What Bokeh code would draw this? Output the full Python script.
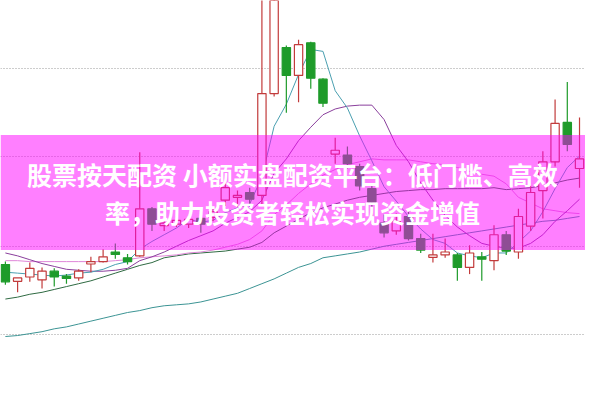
from bokeh.plotting import figure
from bokeh.models import Range1d, BoxAnnotation, FixedTicker, ColumnDataSource
from bokeh.embed import file_html
from bokeh.resources import INLINE
from bokeh.core.properties import value

# ---- data ----
idx = list(range(48))
opens = [9.25, 9.08, 9.12, 9.09, 9.18, 9.12, 9.11, 9.26, 9.28, 9.37,
         9.32, 9.34, 9.83, 9.66, 9.67, 9.67, 9.73, 9.74, 9.92, 9.95,
         10.00, 9.97, 11.03, 11.51, 11.22, 11.56, 11.18, 10.40, 10.39, 10.27,
         10.04, 9.68, 9.60, 9.75, 9.52, 9.33, 9.35, 9.35, 9.22, 9.32,
         9.29, 9.56, 9.38, 9.65, 10.02, 10.32, 10.73, 10.25]
highs = [9.28, 9.11, 9.27, 9.22, 9.21, 9.15, 9.20, 9.33, 9.41, 9.47,
         9.36, 10.42, 9.85, 9.72, 9.75, 9.76, 9.78, 9.85, 10.12, 10.02,
         10.05, 12.10, 12.60, 11.53, 11.59, 11.57, 11.19, 10.57, 10.48, 10.30,
         10.08, 9.77, 9.78, 9.80, 9.57, 9.57, 9.52, 9.37, 9.45, 9.38,
         9.66, 9.60, 9.83, 10.07, 10.43, 10.97, 11.15, 10.78]
lows = [9.04, 8.96, 9.07, 9.00, 9.02, 9.05, 9.08, 9.17, 9.27, 9.31,
        9.25, 9.33, 9.60, 9.60, 9.64, 9.63, 9.58, 9.70, 9.86, 9.85,
        9.85, 9.88, 11.00, 10.83, 10.94, 11.08, 10.89, 10.30, 10.25, 10.02,
        9.75, 9.53, 9.56, 9.50, 9.37, 9.27, 9.32, 9.08, 9.15, 9.08,
        9.19, 9.35, 9.31, 9.60, 9.73, 10.27, 10.43, 10.05]
closes = [9.07, 9.10, 9.21, 9.18, 9.12, 9.11, 9.18, 9.27, 9.33, 9.36,
          9.28, 9.83, 9.67, 9.67, 9.71, 9.72, 9.67, 9.80, 10.05, 9.97,
          9.93, 11.03, 12.45, 11.22, 11.54, 11.19, 10.93, 10.44, 10.30, 10.07,
          9.90, 9.58, 9.70, 9.52, 9.40, 9.34, 9.38, 9.22, 9.37, 9.31,
          9.56, 9.39, 9.75, 10.00, 10.32, 10.72, 10.50, 10.35]

ma5 = [9.17, 9.16, 9.15, 9.14, 9.13, 9.14, 9.16, 9.17, 9.20, 9.25,
       9.28, 9.41, 9.49, 9.56, 9.63, 9.72, 9.69, 9.71, 9.79, 9.84,
       9.88, 10.16, 10.69, 10.92, 11.23, 11.49, 11.47, 11.06, 10.88, 10.59,
       10.33, 10.06, 9.91, 9.75, 9.62, 9.51, 9.47, 9.37, 9.34, 9.32,
       9.37, 9.37, 9.48, 9.60, 9.80, 10.04, 10.26, 10.38]
ma10 = [9.37, 9.34, 9.30, 9.26, 9.23, 9.20, 9.19, 9.18, 9.18, 9.19,
        9.21, 9.29, 9.33, 9.38, 9.44, 9.50, 9.55, 9.60, 9.68, 9.74,
        9.80, 9.92, 10.20, 10.35, 10.54, 10.68, 10.81, 10.87, 10.90, 10.91,
        10.91, 10.76, 10.49, 10.32, 10.10, 9.92, 9.76, 9.64, 9.55, 9.47,
        9.44, 9.42, 9.42, 9.47, 9.56, 9.70, 9.81, 9.93]
ma20 = [9.29, 9.29, 9.28, 9.28, 9.28, 9.28, 9.28, 9.28, 9.28, 9.29,
        9.30, 9.32, 9.33, 9.34, 9.35, 9.37, 9.38, 9.40, 9.43, 9.46,
        9.51, 9.60, 9.77, 9.87, 9.99, 10.09, 10.18, 10.24, 10.29, 10.32,
        10.35, 10.34, 10.34, 10.34, 10.32, 10.30, 10.29, 10.26, 10.22, 10.19,
        10.17, 10.09, 9.95, 9.89, 9.83, 9.81, 9.79, 9.78]
ma30 = [8.89, 8.91, 8.94, 8.96, 8.99, 9.02, 9.05, 9.08, 9.12, 9.16,
        9.20, 9.24, 9.27, 9.32, 9.34, 9.36, 9.37, 9.38, 9.39, 9.41,
        9.43, 9.48, 9.58, 9.65, 9.72, 9.79, 9.84, 9.88, 9.92, 9.95,
        9.97, 9.99, 10.01, 10.02, 10.03, 10.03, 10.04, 10.04, 10.04, 10.04,
        10.05, 10.03, 10.04, 10.05, 10.07, 10.10, 10.13, 10.15]
ma60 = [8.50, 8.51, 8.53, 8.55, 8.58, 8.60, 8.63, 8.66, 8.69, 8.72,
        8.75, 8.77, 8.80, 8.82, 8.83, 8.84, 8.86, 8.89, 8.92, 8.95,
        9.00, 9.05, 9.10, 9.16, 9.22, 9.26, 9.32, 9.34, 9.36, 9.38,
        9.41, 9.44, 9.46, 9.48, 9.50, 9.52, 9.54, 9.56, 9.58, 9.60,
        9.62, 9.64, 9.66, 9.68, 9.70, 9.71, 9.73, 9.75]

grid_levels = [8.52, 9.44, 10.37, 11.29]
banner_bottom, banner_top = 9.40, 10.60
title_lines = ["股票按天配资 小额实盘配资平台：低门槛、高效",
               "率，助力投资者轻松实现资金增值"]
title_y = [10.19, 9.80]

RED = "#c23b3b"
GREEN = "#1e9b2a"

# ---- figure ----
p = figure(width=585, height=384, output_backend="svg", toolbar_location=None,
           x_range=Range1d(-0.4, 47.49), y_range=Range1d(8.0, 12.0),
           min_border=0)
p.xaxis.visible = False
p.yaxis.visible = False
p.outline_line_color = None
p.xgrid.visible = False
p.yaxis.ticker = FixedTicker(ticks=grid_levels)
p.ygrid.ticker = FixedTicker(ticks=grid_levels)
p.ygrid.grid_line_color = "#9a9a9a"
p.ygrid.grid_line_dash = "1 2"
p.ygrid.grid_line_width = 1

# moving averages
p.line(idx, ma60, line_color="#3c9494", line_width=1)
p.line(idx, ma30, line_color="#2f6a42", line_width=1)
p.line(idx, ma20, line_color="#df86d8", line_width=1)
p.line(idx, ma10, line_color="#8a3f9c", line_width=1)
p.line(idx, ma5, line_color="#4a9fb0", line_width=1)

# candles
up = [c >= o for o, c in zip(opens, closes)]
src = ColumnDataSource(dict(
    x=idx, high=highs, low=lows,
    top=[max(o, c) + (0.01 if abs(o - c) < 0.02 else 0) for o, c in zip(opens, closes)],
    bottom=[min(o, c) - (0.005 if abs(o - c) < 0.02 else 0) for o, c in zip(opens, closes)],
    line=[RED if u else GREEN for u in up],
    fill=["white" if u else GREEN for u in up],
))
p.segment(x0="x", y0="low", x1="x", y1="high", source=src, line_color="line", line_width=1.2)
p.vbar(x="x", width=0.68, top="top", bottom="bottom", source=src,
       fill_color="fill", line_color="line", line_width=1.2)

# banner
p.add_layout(BoxAnnotation(bottom=banner_bottom, top=banner_top,
                           fill_color="#ff00ff", fill_alpha=0.5, line_color=None))
p.text(x=[23.5, 23.5], y=title_y, text=title_lines,
       text_font=value("Noto Sans CJK SC"), text_font_style="bold",
       text_font_size="25px", text_color="white",
       text_align="center", text_baseline="middle", level="overlay")

open("out.html", "w").write(file_html(p, INLINE))
